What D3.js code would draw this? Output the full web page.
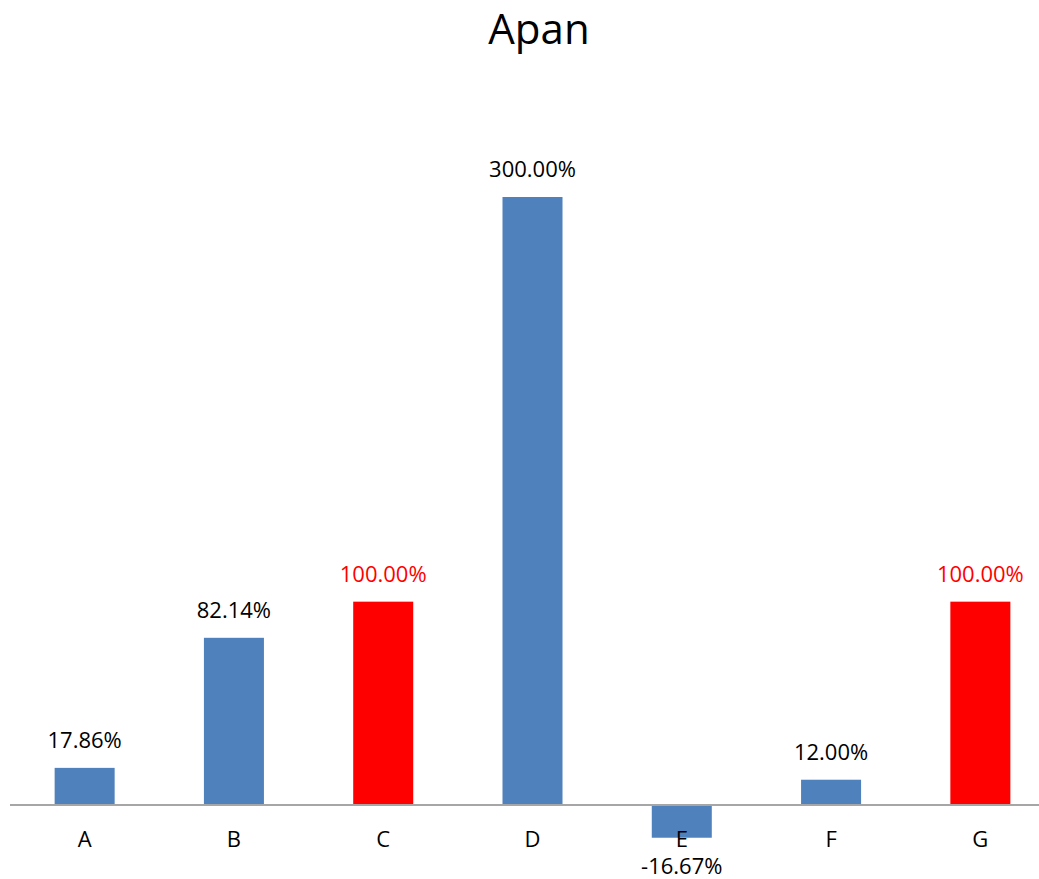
<!DOCTYPE html>
<html>
<head>
<meta charset="utf-8">
<script src="https://cdn.jsdelivr.net/npm/d3@7"></script>
<style>
  html, body { margin: 0; padding: 0; background: #ffffff; }
  svg { display: block; font-family: "Open Sans", "Noto Sans", sans-serif; }
</style>
</head>
<body>
<svg id="chart" width="1039" height="879"></svg>
<script>
const title = "Apan";
const categories = ["A", "B", "C", "D", "E", "F", "G"];
const values = [17.86, 82.14, 100.00, 300.00, -16.67, 12.00, 100.00];
const highlighted = [false, false, true, false, false, false, true];

const blue = "#4f81bd";
const red = "#ff0000";

const svg = d3.select("#chart");

const x = d3.scaleBand()
  .domain(categories)
  .range([10, 1055])
  .paddingInner(0.598)
  .paddingOuter(0.299);

const y = d3.scaleLinear()
  .domain([0, 300])
  .range([804, 197]);

const fmt = v => v.toFixed(2) + "%";

// Title
svg.append("text")
  .attr("x", 539)
  .attr("y", 44)
  .attr("text-anchor", "middle")
  .attr("font-size", 42)
  .attr("fill", "#000")
  .text(title);

// Bars
svg.selectAll("rect.bar")
  .data(values)
  .join("rect")
  .attr("class", "bar")
  .attr("x", (d, i) => x(categories[i]))
  .attr("width", x.bandwidth())
  .attr("y", d => y(Math.max(0, d)))
  .attr("height", d => Math.abs(y(d) - y(0)))
  .attr("fill", (d, i) => highlighted[i] ? red : blue);

// Zero axis line
svg.append("line")
  .attr("x1", 10)
  .attr("x2", 1039)
  .attr("y1", y(0) + 1)
  .attr("y2", y(0) + 1)
  .attr("stroke", "#a6a6a6")
  .attr("stroke-width", 2);

// Category labels
svg.selectAll("text.cat")
  .data(categories)
  .join("text")
  .attr("class", "cat")
  .attr("x", d => x(d) + x.bandwidth() / 2)
  .attr("y", 847)
  .attr("text-anchor", "middle")
  .attr("font-size", 22)
  .attr("fill", "#000")
  .text(d => d);

// Value labels: above positive bars, below negative ones
svg.selectAll("text.val")
  .data(values)
  .join("text")
  .attr("class", "val")
  .attr("x", (d, i) => x(categories[i]) + x.bandwidth() / 2)
  .attr("y", d => d >= 0 ? y(d) - 20 : y(d) + 36)
  .attr("text-anchor", "middle")
  .attr("font-size", 22)
  .attr("fill", (d, i) => highlighted[i] ? red : "#000")
  .text(d => fmt(d));
</script>
</body>
</html>
